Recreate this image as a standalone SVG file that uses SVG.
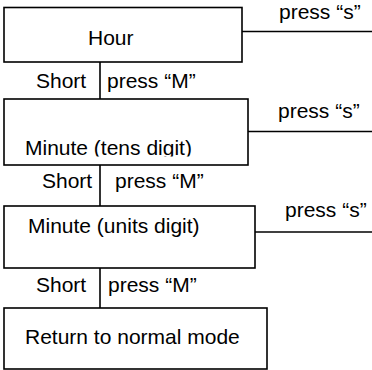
<svg xmlns="http://www.w3.org/2000/svg" width="372" height="370" viewBox="0 0 372 370">
<style>
.box{fill:#fff;stroke:#000;stroke-width:1.6}
.ln{stroke:#000;stroke-width:1.6;fill:none}
text{font-family:"Liberation Sans",Arial,sans-serif;font-size:21px;fill:#000}
</style>
<defs>
<clipPath id="clipTens"><rect x="5" y="100" width="242" height="56.5"/></clipPath>
</defs>
<rect width="372" height="370" fill="#fff"/>
<g id="connectors">
<line class="ln" x1="242" y1="31.5" x2="372" y2="31.5"/>
<line class="ln" x1="100" y1="62" x2="100" y2="99"/>
<line class="ln" x1="248" y1="131.5" x2="372" y2="131.5"/>
<line class="ln" x1="100" y1="165" x2="100" y2="206"/>
<line class="ln" x1="255" y1="232" x2="372" y2="232"/>
<line class="ln" x1="100" y1="268" x2="100" y2="308"/>
<text x="279" y="19">press “s”</text>
<text x="36" y="88">Short</text>
<text x="107" y="88">press “M”</text>
<text x="278" y="118">press “s”</text>
<text x="42" y="188">Short</text>
<text x="115" y="188">press “M”</text>
<text x="285" y="217">press “s”</text>
<text x="36" y="292">Short</text>
<text x="108" y="292">press “M”</text>
</g>
<g id="hour">
<rect class="box" x="4" y="7.5" width="238" height="54.5"/>
<text x="88" y="45">Hour</text>
</g>
<g id="minute-tens">
<rect class="box" x="4" y="99" width="244" height="66"/>
<text x="25" y="154.5" clip-path="url(#clipTens)">Minute (tens digit)</text>
</g>
<g id="minute-units">
<rect class="box" x="4" y="206" width="251" height="62"/>
<text x="28" y="233">Minute (units digit)</text>
</g>
<g id="return">
<rect class="box" x="4" y="308" width="263" height="61"/>
<text x="25" y="344">Return to normal mode</text>
</g>
</svg>
